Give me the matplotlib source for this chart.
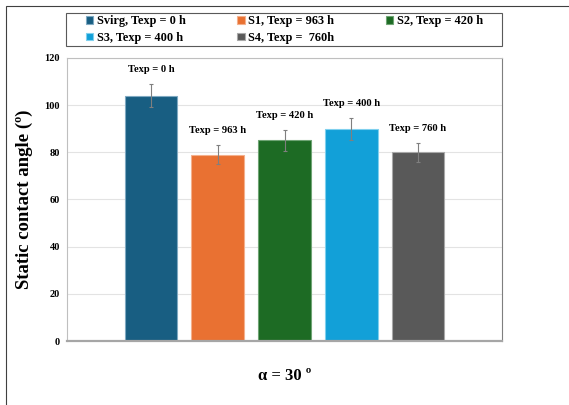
import numpy as np
import matplotlib
matplotlib.use("Agg")
import matplotlib.pyplot as plt
from matplotlib.patches import Rectangle

# data
samples = ["Svirg, Texp = 0 h", "S1, Texp = 963 h", "S2, Texp = 420 h",
           "S3, Texp = 400 h", "S4, Texp =  760h"]
bar_labels = ["Texp = 0 h", "Texp = 963 h", "Texp = 420 h", "Texp = 400 h", "Texp = 760 h"]
angles = [104, 79, 85, 90, 80]
errors = [5, 4, 4.5, 4.7, 4]
colors = ["#185E82", "#E97132", "#1D6B24", "#12A0D8", "#595959"]
edges = ["#7FA9C2", "#F4B08C", "#6FA474", "#7FD0EE", "#A8A8A8"]

plt.rcParams["font.family"] = ["Liberation Serif", "DejaVu Serif"]
plt.rcParams["font.weight"] = "bold"

fig = plt.figure(figsize=(5.69, 4.05), dpi=100)
ax = fig.add_axes([0.1178, 0.158, 0.7645, 0.699])

x = np.arange(len(angles))
handles = []
for i in range(len(angles)):
    b = ax.bar(x[i], angles[i], width=0.79, color=colors[i], edgecolor=edges[i],
               linewidth=0.8, label=samples[i], zorder=2)
    handles.append(b)
    ax.errorbar(x[i], angles[i], yerr=errors[i], fmt="none", ecolor="#7F7F7F",
                elinewidth=0.8, capsize=1.5, capthick=0.8, zorder=3)
    ax.annotate(bar_labels[i], (x[i], angles[i] + errors[i]), xytext=(0, 7),
                textcoords="offset points", ha="center", va="bottom",
                fontsize=7.6, fontweight="bold")

ax.set_xlim(-1.26, 5.26)
ax.set_ylim(0, 120)
ax.set_yticks(np.arange(0, 121, 20))
ax.set_xticks([])
ax.tick_params(axis="y", length=0, labelsize=7.5, pad=5)
for lab in ax.get_yticklabels():
    lab.set_fontweight("bold")
ax.grid(axis="y", color="#E3E3E3", linewidth=0.8, zorder=0)
ax.set_axisbelow(True)
for s in ["left", "top"]:
    ax.spines[s].set_color("#BFBFBF")
    ax.spines[s].set_linewidth(0.8)
ax.spines["right"].set_color("#7F7F7F")
ax.spines["right"].set_linewidth(0.8)
ax.spines["bottom"].set_color("#A6A6A6")
ax.spines["bottom"].set_linewidth(1.6)

ax.set_ylabel("Static contact angle (º)", fontsize=13.5, fontweight="bold", labelpad=8)
fig.text(0.5, (405 - 376) / 405, "α = 30 º", ha="center", va="center",
         fontsize=12, fontweight="bold")

# legend filled row by row like the original
order = [0, 3, 1, 4, 2]
leg = fig.legend([handles[k] for k in order], [samples[k] for k in order],
                 loc="center", ncol=3, bbox_to_anchor=(0.5, 0.927),
                 fontsize=8.8, frameon=False,
                 handlelength=0.6, handleheight=0.6, handletextpad=0.3,
                 labelspacing=0.35, columnspacing=4.2)
for t in leg.get_texts():
    t.set_fontweight("bold")
fig.add_artist(Rectangle((66 / 569, (405 - 46) / 405), 436 / 569, 33 / 405,
                         transform=fig.transFigure, fill=False,
                         edgecolor="#595959", linewidth=0.8))

# outer frame of the figure panel
fig.add_artist(Rectangle((6 / 569, -0.1), 1.2, (405 - 6) / 405 + 0.1,
                         transform=fig.transFigure, fill=False,
                         edgecolor="#404040", linewidth=0.8))

fig.savefig("out.png", dpi=100)
